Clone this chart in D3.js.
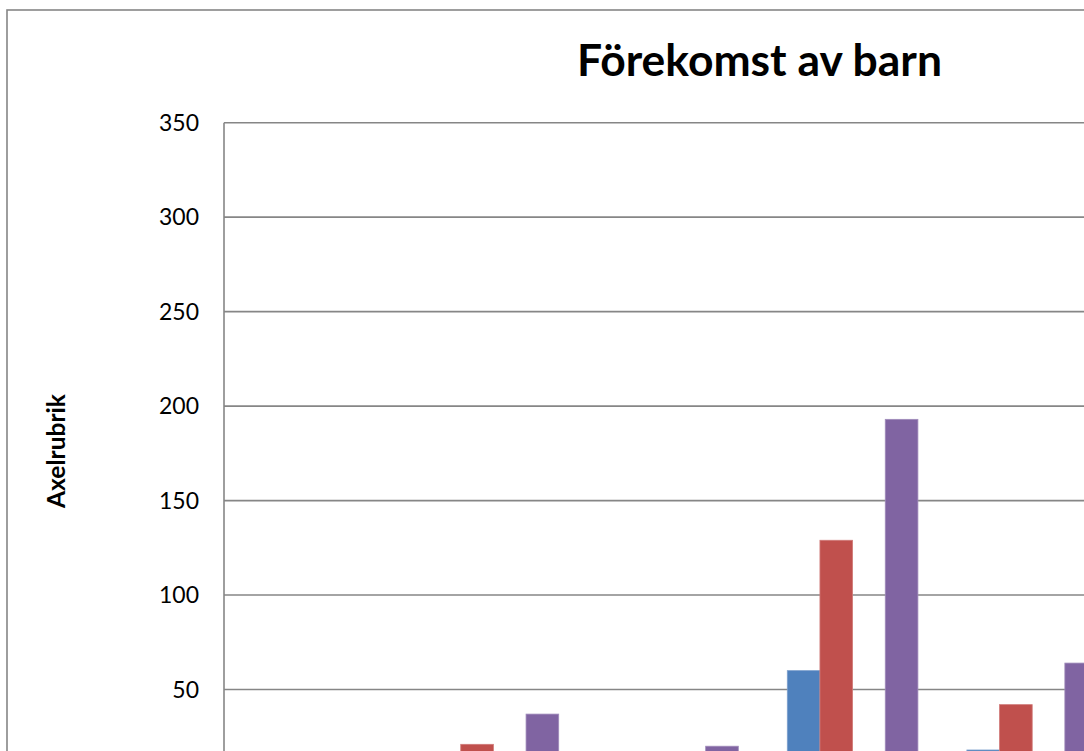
<!DOCTYPE html>
<html>
<head>
<meta charset="utf-8">
<script src="https://cdn.jsdelivr.net/npm/d3@7"></script>
<style>
  html, body { margin: 0; padding: 0; background: #fff; overflow: hidden; }
  svg { display: block; overflow: hidden; }
</style>
</head>
<body>
<svg id="chart" width="1084" height="751"></svg>
<script>
// Categories and the four series of the clustered column chart
const categories = ["1", "2", "3", "4", "5", "6"];
const seriesNames = ["Serie 1", "Serie 2", "Serie 3", "Serie 4"];
const serie1 = [4, 8, 5, 60, 18, 10];
const serie2 = [9, 21, 11, 129, 42, 24];
const serie3 = [2, 3, 2, 6, 9, 5];
const serie4 = [12, 37, 20, 193, 64, 38];
const yTicks = [0, 50, 100, 150, 200, 250, 300, 350];

const seriesValues = [serie1, serie2, serie3, serie4];
const colors = ["#4F81BD", "#C0504D", "#9BBB59", "#8064A2"];
const edges = ["#7da0cc", "#d07b79", "#b4cc84", "#a08cbb"];

const svg = d3.select("#chart");
const FONT = "Lato, 'Open Sans', 'Liberation Sans', sans-serif";

// Chart area frame (the full chart is larger than the window)
const frame = { x: 7, y: 10, w: 1505, h: 900 };
svg.append("rect")
  .attr("x", frame.x).attr("y", frame.y)
  .attr("width", frame.w).attr("height", frame.h)
  .attr("fill", "#fff")
  .attr("stroke", "#868686").attr("stroke-width", 1.6);

// Plot area
const plot = { left: 224, top: 122.7, bottom: 784, bandW: 179.6 };
plot.right = plot.left + plot.bandW * categories.length;

const y = d3.scaleLinear().domain([0, 350]).range([plot.bottom, plot.top]);
const x0 = d3.scaleBand().domain(categories).range([plot.left, plot.right]).padding(0);
const x1 = d3.scaleBand().domain(seriesNames).range([0, x0.bandwidth()])
  .paddingInner(0).paddingOuter(0.75);

// Horizontal gridlines
svg.append("g").selectAll("line")
  .data(yTicks.filter(t => t > 0))
  .join("line")
  .attr("x1", plot.left).attr("x2", plot.right)
  .attr("y1", d => y(d)).attr("y2", d => y(d))
  .attr("stroke", "#868686").attr("stroke-width", 1.6);

// Bars
const rows = categories.map((c, i) => ({
  cat: c,
  vals: seriesNames.map((s, j) => ({ s, j, v: seriesValues[j][i] }))
}));
svg.append("g").selectAll("g")
  .data(rows)
  .join("g")
  .attr("transform", d => `translate(${x0(d.cat)},0)`)
  .selectAll("rect")
  .data(d => d.vals)
  .join("rect")
  .attr("x", d => x1(d.s))
  .attr("width", x1.bandwidth())
  .attr("y", d => y(d.v))
  .attr("height", d => y(0) - y(d.v))
  .attr("fill", d => colors[d.j])
  .attr("stroke", d => edges[d.j])
  .attr("stroke-width", 0.8);

// Value axis line
svg.append("line")
  .attr("x1", plot.left).attr("x2", plot.left)
  .attr("y1", plot.top).attr("y2", plot.bottom)
  .attr("stroke", "#868686").attr("stroke-width", 1.6);

// Fit a text element's size so its width matches a target
function fitWidth(sel, target, base) {
  sel.attr("font-size", base);
  const w = sel.node().getComputedTextLength();
  sel.attr("font-size", base * target / w);
}

// Tick labels (only those that fall inside the visible window)
const tickLabels = svg.append("g").selectAll("text")
  .data(yTicks.filter(t => y(t) < 740))
  .join("text")
  .attr("x", 199)
  .attr("y", d => y(d))
  .attr("dy", "0.36em")
  .attr("text-anchor", "end")
  .attr("font-family", FONT)
  .attr("fill", "#000")
  .text(d => d);
fitWidth(tickLabels.filter(d => d === 350), 40, 24);
const tickSize = tickLabels.filter(d => d === 350).attr("font-size");
tickLabels.attr("font-size", tickSize);

// Title
const title = svg.append("text")
  .attr("x", 759.5).attr("y", 76)
  .attr("text-anchor", "middle")
  .attr("font-family", FONT)
  .attr("font-weight", "bold")
  .attr("fill", "#000")
  .text("Förekomst av barn");
fitWidth(title, 365, 42);

// Value axis title
const axisTitle = svg.append("text")
  .attr("transform", "translate(65,451) rotate(-90)")
  .attr("text-anchor", "middle")
  .attr("font-family", FONT)
  .attr("font-weight", "bold")
  .attr("fill", "#000")
  .text("Axelrubrik");
fitWidth(axisTitle, 114, 20);
</script>
</body>
</html>
